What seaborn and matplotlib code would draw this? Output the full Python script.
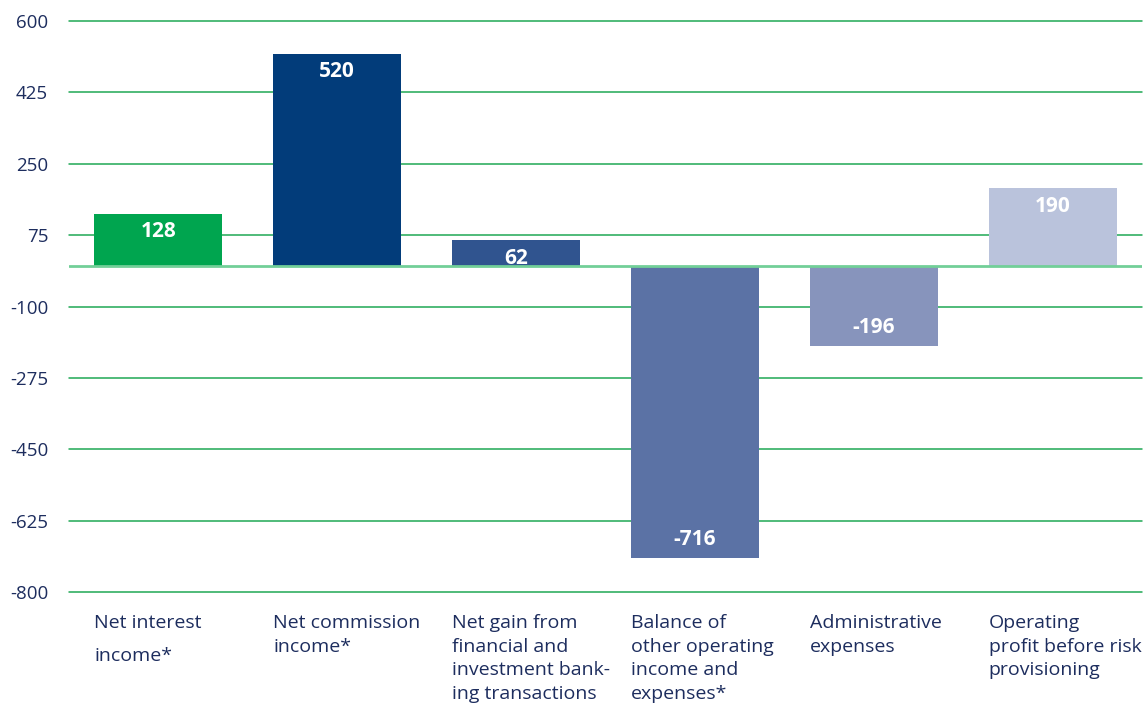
import matplotlib
matplotlib.use("Agg")
import matplotlib.pyplot as plt
import seaborn as sns
import pandas as pd

# Data
categories = [
    "Net interest\nincome*",
    "Net commission\nincome*",
    "Net gain from\nfinancial and\ninvestment bank-\ning transactions",
    "Balance of\nother operating\nincome and\nexpenses*",
    "Administrative\nexpenses",
    "Operating\nprofit before risk\nprovisioning",
]
values = [128, 520, 62, -716, -196, 190]
bar_colors = ["#00a54f", "#023c7a", "#30548f", "#5b72a5", "#8794bc", "#bac3dc"]
y_ticks = [600, 425, 250, 75, -100, -275, -450, -625, -800]

sns.set_theme(style="white")
plt.rcParams["font.family"] = ["Open Sans", "DejaVu Sans"]

text_color = "#1d2d5e"
grid_color = "#1fa855"

df = pd.DataFrame({"category": categories, "value": values})

fig = plt.figure(figsize=(11.44, 7.06), dpi=100)
ax = fig.add_axes([69 / 1144, 1 - 592 / 706, (1142 - 69) / 1144, (592 - 21) / 706])

bar_w = 0.716
sns.barplot(data=df, x="category", y="value", hue="category",
            palette=bar_colors, width=bar_w, legend=False, ax=ax,
            saturation=1, zorder=3, edgecolor="none", linewidth=0)

ax.set_ylim(-800, 600)
ax.set_xlim(-0.5, len(categories) - 0.5)
ax.set_yticks(y_ticks)
ax.set_yticklabels([str(t) for t in y_ticks], fontsize=13.5, color=text_color)
ax.tick_params(axis="y", length=0, pad=15)

for t in y_ticks:
    ax.axhline(t, color=grid_color, lw=1.1, zorder=1, clip_on=False)
ax.axhline(0, color="#72cf98", lw=2, zorder=4)

for s in ax.spines.values():
    s.set_visible(False)

ax.set_xlabel("")
ax.set_ylabel("")
ax.set_xticks(range(len(categories)))
ax.set_xticklabels([])
ax.tick_params(axis="x", length=0)

# Category labels, left-aligned with each bar
for i, lab in enumerate(categories):
    ax.annotate(lab, xy=(i - bar_w / 2, -800), xycoords="data",
                xytext=(0, -16), textcoords="offset points",
                ha="left", va="top", fontsize=14, color=text_color,
                linespacing=2.05 if i == 0 else 1.4)

# Value labels inside the bars
for i, v in enumerate(values):
    off = -13 if v > 0 else 13
    ax.annotate(f"{v}", xy=(i, v), xytext=(0, off), textcoords="offset points",
                ha="center", va="center", fontsize=15, fontweight="bold",
                color="white", zorder=5)

fig.savefig("out.png", dpi=100)
